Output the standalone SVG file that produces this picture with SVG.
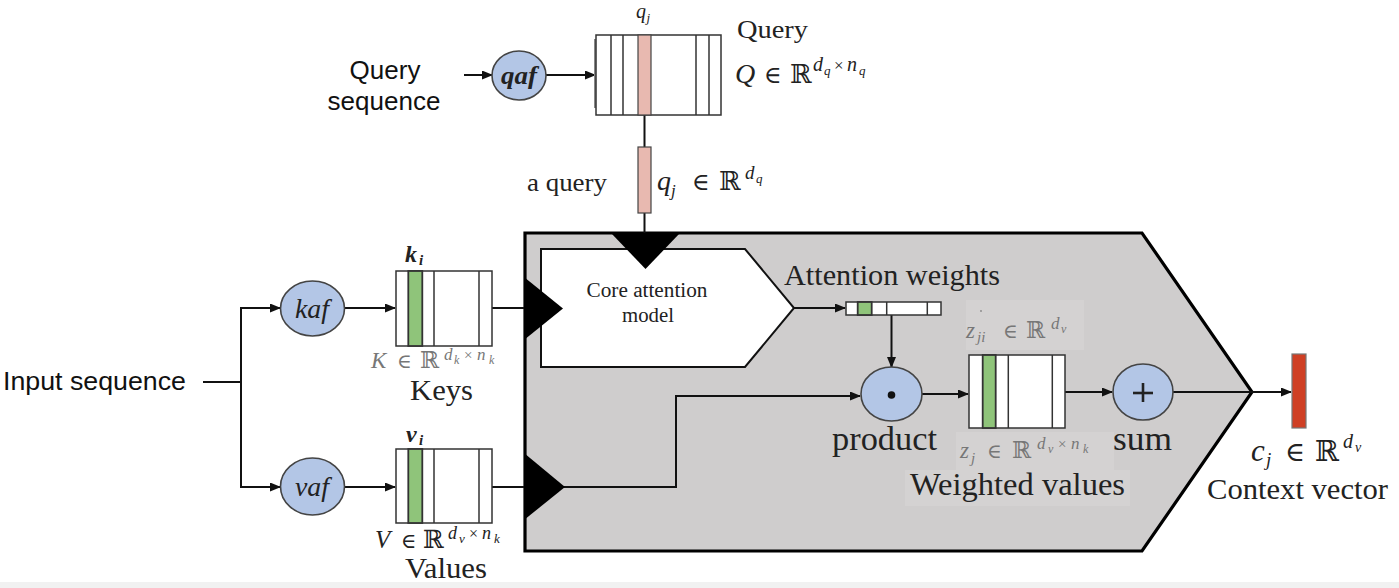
<svg xmlns="http://www.w3.org/2000/svg" width="1399" height="588" viewBox="0 0 1399 588">
<defs>
<marker id="ah" markerUnits="userSpaceOnUse" markerWidth="11" markerHeight="9" refX="10" refY="4.5" orient="auto">
<path d="M0,0 L11,4.5 L0,9 z" fill="#111"/>
</marker>
<style>
.sans{font-family:"Liberation Sans",Arial,sans-serif;fill:#111}
.ser{font-family:"Liberation Serif","Times New Roman",serif;fill:#222}
.m{font-family:"Liberation Serif","DejaVu Serif",serif;fill:#222}
.mi{font-style:italic}
.up{font-style:normal}
.g{fill:#777}
.conn{stroke:#111;stroke-width:2;fill:none}
.arr{marker-end:url(#ah)}
.mat{fill:#fff;stroke:#333;stroke-width:1.5}
.col{stroke:#333;stroke-width:1.5}
.green{fill:#8fc47a;stroke:#333;stroke-width:1.8}
.pink{fill:#e8b9b0;stroke:#444;stroke-width:1.2}
.op{fill:#b3c6e6;stroke:#444;stroke-width:1.6}
.tri{fill:#000}
.patch{fill:#d4d2d2}
</style>
</defs>
<rect x="0" y="0" width="1399" height="588" fill="#fff"/>
<rect x="0" y="582" width="1399" height="6" fill="#f1f1f1"/>

<g id="attention-box">
<path d="M525,233 L1142,233 L1252,392 L1142,551 L525,551 Z" fill="#cfcdcd" stroke="#000" stroke-width="3.2"/>
<rect class="patch" x="966" y="300" width="118" height="50"/>
<rect class="patch" x="956" y="432" width="158" height="45"/>
<rect class="patch" x="905" y="470" width="225" height="36"/>
</g>

<g id="connectors">
<line class="conn arr" x1="464" y1="75" x2="492" y2="75"/>
<line class="conn arr" x1="546" y1="75" x2="595" y2="75"/>
<line class="conn" x1="644.5" y1="115" x2="644.5" y2="147"/>
<line class="conn" x1="644.5" y1="213" x2="644.5" y2="234"/>
<line class="conn" x1="203" y1="382" x2="241" y2="382"/>
<line class="conn" x1="241" y1="308" x2="241" y2="487"/>
<line class="conn arr" x1="240" y1="308" x2="280" y2="308"/>
<line class="conn arr" x1="240" y1="487" x2="280" y2="487"/>
<line class="conn arr" x1="345" y1="308" x2="395" y2="308"/>
<line class="conn arr" x1="345" y1="487" x2="395" y2="487"/>
<line class="conn" x1="492" y1="308" x2="526" y2="308"/>
<line class="conn" x1="492" y1="487" x2="526" y2="487"/>
<polyline class="conn arr" points="562,487 676,487 676,396 860,396"/>
<line class="conn arr" x1="794" y1="308" x2="845" y2="308"/>
<line class="conn arr" x1="891.5" y1="315" x2="891.5" y2="367"/>
<line class="conn arr" x1="922" y1="394" x2="968" y2="394"/>
<line class="conn arr" x1="1065" y1="392" x2="1112" y2="392"/>
<line class="conn arr" x1="1173" y1="392" x2="1291" y2="392"/>
</g>

<g id="core-attention">
<path d="M541,249 L745,249 L794,308 L745,367 L541,367 Z" fill="#fff" stroke="#111" stroke-width="2"/>
<text class="ser" x="647" y="297" font-size="20" text-anchor="middle" textLength="121" lengthAdjust="spacingAndGlyphs">Core attention</text>
<text class="ser" x="648" y="322" font-size="20" text-anchor="middle" textLength="52" lengthAdjust="spacingAndGlyphs">model</text>
</g>

<g id="inputs-triangles">
<polygon class="tri" points="611,233 680,233 645.5,269"/>
<polygon class="tri" points="524,277 563,308.5 524,340"/>
<polygon class="tri" points="524,453 565,487 524,520"/>
</g>

<g id="query-sequence">
<text class="sans" x="385" y="79" font-size="26" text-anchor="middle">Query</text>
<text class="sans" x="384" y="110" font-size="26" text-anchor="middle">sequence</text>
</g>

<g id="qaf">
<ellipse class="op" cx="519" cy="75.5" rx="27" ry="24.5"/>
<text class="m mi" x="519" y="84" font-size="25" font-weight="bold" text-anchor="middle" fill="#333" textLength="36" lengthAdjust="spacingAndGlyphs">qaf</text>
</g>

<g id="query-matrix">
<line x1="595" y1="39" x2="595" y2="108" stroke="#888" stroke-width="2"/>
<rect class="mat" x="596" y="35" width="125" height="80"/>
<line class="col" x1="611" y1="35" x2="611" y2="115"/>
<line class="col" x1="623" y1="35" x2="623" y2="115"/>
<rect class="pink" x="638" y="35" width="13" height="80"/>
<line class="col" x1="696" y1="35" x2="696" y2="115"/>
<line class="col" x1="709" y1="35" x2="709" y2="115"/>
<text class="m mi" font-size="20"><tspan x="636" y="18">q</tspan><tspan x="646.5" y="22" font-size="13">j</tspan></text>
<text class="ser" x="737" y="38" font-size="25" textLength="71" lengthAdjust="spacingAndGlyphs">Query</text>
<text class="m mi" font-size="28"><tspan x="735" y="83">Q</tspan><tspan class="up" x="764" y="83" font-size="24">∈</tspan><tspan class="up" x="790" y="83" font-size="26">ℝ</tspan><tspan x="813" y="71" font-size="20">d</tspan><tspan x="824" y="75" font-size="13">q</tspan><tspan class="up" x="834" y="71" font-size="17">×</tspan><tspan x="847" y="71" font-size="20">n</tspan><tspan x="859" y="75" font-size="13">q</tspan></text>
</g>

<g id="query-vector">
<rect class="pink" x="638" y="147" width="13" height="66"/>
<text class="ser" x="527" y="191" font-size="25" textLength="80" lengthAdjust="spacingAndGlyphs">a query</text>
<text class="m mi" font-size="28"><tspan x="657" y="190">q</tspan><tspan x="671" y="196" font-size="17">j</tspan><tspan class="up" x="692" y="190" font-size="24">∈</tspan><tspan class="up" x="719" y="190" font-size="26">ℝ</tspan><tspan x="745" y="179" font-size="19">d</tspan><tspan x="756" y="183" font-size="13">q</tspan></text>
</g>

<g id="input-sequence">
<text class="sans" x="3" y="390" font-size="26" textLength="183" lengthAdjust="spacingAndGlyphs">Input sequence</text>
</g>

<g id="kaf">
<ellipse class="op" cx="312.5" cy="308.5" rx="32" ry="27.5"/>
<text class="m mi" x="312" y="318" font-size="27" text-anchor="middle" fill="#333" textLength="34" lengthAdjust="spacingAndGlyphs">kaf</text>
</g>

<g id="vaf">
<ellipse class="op" cx="312.5" cy="486.5" rx="32" ry="28.5"/>
<text class="m mi" x="312" y="496" font-size="27" text-anchor="middle" fill="#333" textLength="34" lengthAdjust="spacingAndGlyphs">vaf</text>
</g>

<g id="keys">
<rect class="mat" x="396" y="271" width="96" height="75"/>
<rect class="green" x="408.3" y="271" width="14" height="75"/>
<line class="col" x1="434" y1="271" x2="434" y2="346"/>
<line class="col" x1="479" y1="271" x2="479" y2="346"/>
<text class="m mi" font-size="24" font-weight="bold"><tspan x="405" y="262">k</tspan><tspan x="419" y="265" font-size="15">i</tspan></text>
<text class="m mi g" font-size="23"><tspan x="371" y="368">K</tspan><tspan class="up" x="397" y="368" font-size="20">∈</tspan><tspan class="up" x="420" y="368" font-size="23">ℝ</tspan><tspan x="444" y="360" font-size="17">d</tspan><tspan x="454" y="364" font-size="12">k</tspan><tspan class="up" x="464" y="360" font-size="15">×</tspan><tspan x="477" y="360" font-size="17">n</tspan><tspan x="489" y="364" font-size="12">k</tspan></text>
<text class="ser" x="410" y="400" font-size="29" textLength="63" lengthAdjust="spacingAndGlyphs">Keys</text>
</g>

<g id="values">
<rect class="mat" x="396" y="449" width="96" height="74"/>
<rect class="green" x="408.3" y="449" width="14" height="74"/>
<line class="col" x1="434" y1="449" x2="434" y2="523"/>
<line class="col" x1="479" y1="449" x2="479" y2="523"/>
<text class="m mi" font-size="24" font-weight="bold"><tspan x="406" y="442">v</tspan><tspan x="419" y="445" font-size="15">i</tspan></text>
<text class="m mi" font-size="25" fill="#333"><tspan x="375" y="548">V</tspan><tspan class="up" x="401" y="548" font-size="21">∈</tspan><tspan class="up" x="423" y="548" font-size="25">ℝ</tspan><tspan x="448" y="539" font-size="18">d</tspan><tspan x="459" y="543" font-size="13">v</tspan><tspan class="up" x="469" y="539" font-size="16">×</tspan><tspan x="482" y="539" font-size="18">n</tspan><tspan x="494" y="543" font-size="13">k</tspan></text>
<text class="ser" x="405" y="578" font-size="29" textLength="82" lengthAdjust="spacingAndGlyphs">Values</text>
</g>

<g id="attention-weights">
<text class="ser" x="784" y="285" font-size="29" textLength="216" lengthAdjust="spacingAndGlyphs">Attention weights</text>
<rect class="mat" x="846" y="302" width="95" height="13"/>
<rect class="green" x="857.7" y="302" width="14" height="13"/>
<line class="col" x1="886.7" y1="302" x2="886.7" y2="315"/>
<line class="col" x1="927.3" y1="302" x2="927.3" y2="315"/>
</g>

<g id="product">
<ellipse class="op" cx="891.5" cy="394" rx="30.5" ry="27"/>
<circle cx="891.5" cy="395" r="3.8" fill="#111"/>
<text class="ser" x="832" y="450" font-size="34" textLength="105" lengthAdjust="spacingAndGlyphs">product</text>
</g>

<g id="weighted-values">
<circle cx="981" cy="311" r="0.9" fill="#888"/>
<text class="m mi g" font-size="23"><tspan x="966" y="338">z</tspan><tspan x="977" y="342" font-size="15">ji</tspan><tspan class="up" x="1003" y="338" font-size="20">∈</tspan><tspan class="up" x="1026" y="338" font-size="23">ℝ</tspan><tspan x="1051" y="329" font-size="17">d</tspan><tspan x="1061" y="333" font-size="12">v</tspan></text>
<rect class="mat" x="969" y="355" width="96" height="73"/>
<rect class="green" x="982.7" y="355" width="13" height="73"/>
<line class="col" x1="1008.3" y1="355" x2="1008.3" y2="428"/>
<line class="col" x1="1052.3" y1="355" x2="1052.3" y2="428"/>
<text class="m mi g" font-size="23"><tspan x="960" y="458">z</tspan><tspan x="971" y="463" font-size="15">j</tspan><tspan class="up" x="987" y="458" font-size="20">∈</tspan><tspan class="up" x="1012" y="458" font-size="23">ℝ</tspan><tspan x="1037" y="449" font-size="17">d</tspan><tspan x="1048" y="453" font-size="12">v</tspan><tspan class="up" x="1058" y="449" font-size="15">×</tspan><tspan x="1071" y="449" font-size="17">n</tspan><tspan x="1083" y="453" font-size="12">k</tspan></text>
<text class="ser" x="910" y="495" font-size="31" textLength="215" lengthAdjust="spacingAndGlyphs">Weighted values</text>
</g>

<g id="sum">
<ellipse class="op" cx="1143" cy="392" rx="30" ry="28"/>
<line x1="1133" y1="393" x2="1153" y2="393" stroke="#222" stroke-width="2.6"/>
<line x1="1143" y1="383" x2="1143" y2="402" stroke="#222" stroke-width="2.6"/>
<text class="ser" x="1113" y="450" font-size="34" textLength="59" lengthAdjust="spacingAndGlyphs">sum</text>
</g>

<g id="context-vector">
<rect x="1292" y="354" width="14" height="74" fill="#cf3f24" stroke="#777" stroke-width="1.2"/>
<text class="m mi" font-size="31"><tspan x="1251" y="461">c</tspan><tspan x="1266" y="466" font-size="19">j</tspan><tspan class="up" x="1285" y="461" font-size="27">∈</tspan><tspan class="up" x="1315" y="461" font-size="29">ℝ</tspan><tspan x="1343" y="448" font-size="20">d</tspan><tspan x="1355" y="452" font-size="14">v</tspan></text>
<text class="ser" x="1207" y="499" font-size="30" textLength="181" lengthAdjust="spacingAndGlyphs">Context vector</text>
</g>
</svg>
